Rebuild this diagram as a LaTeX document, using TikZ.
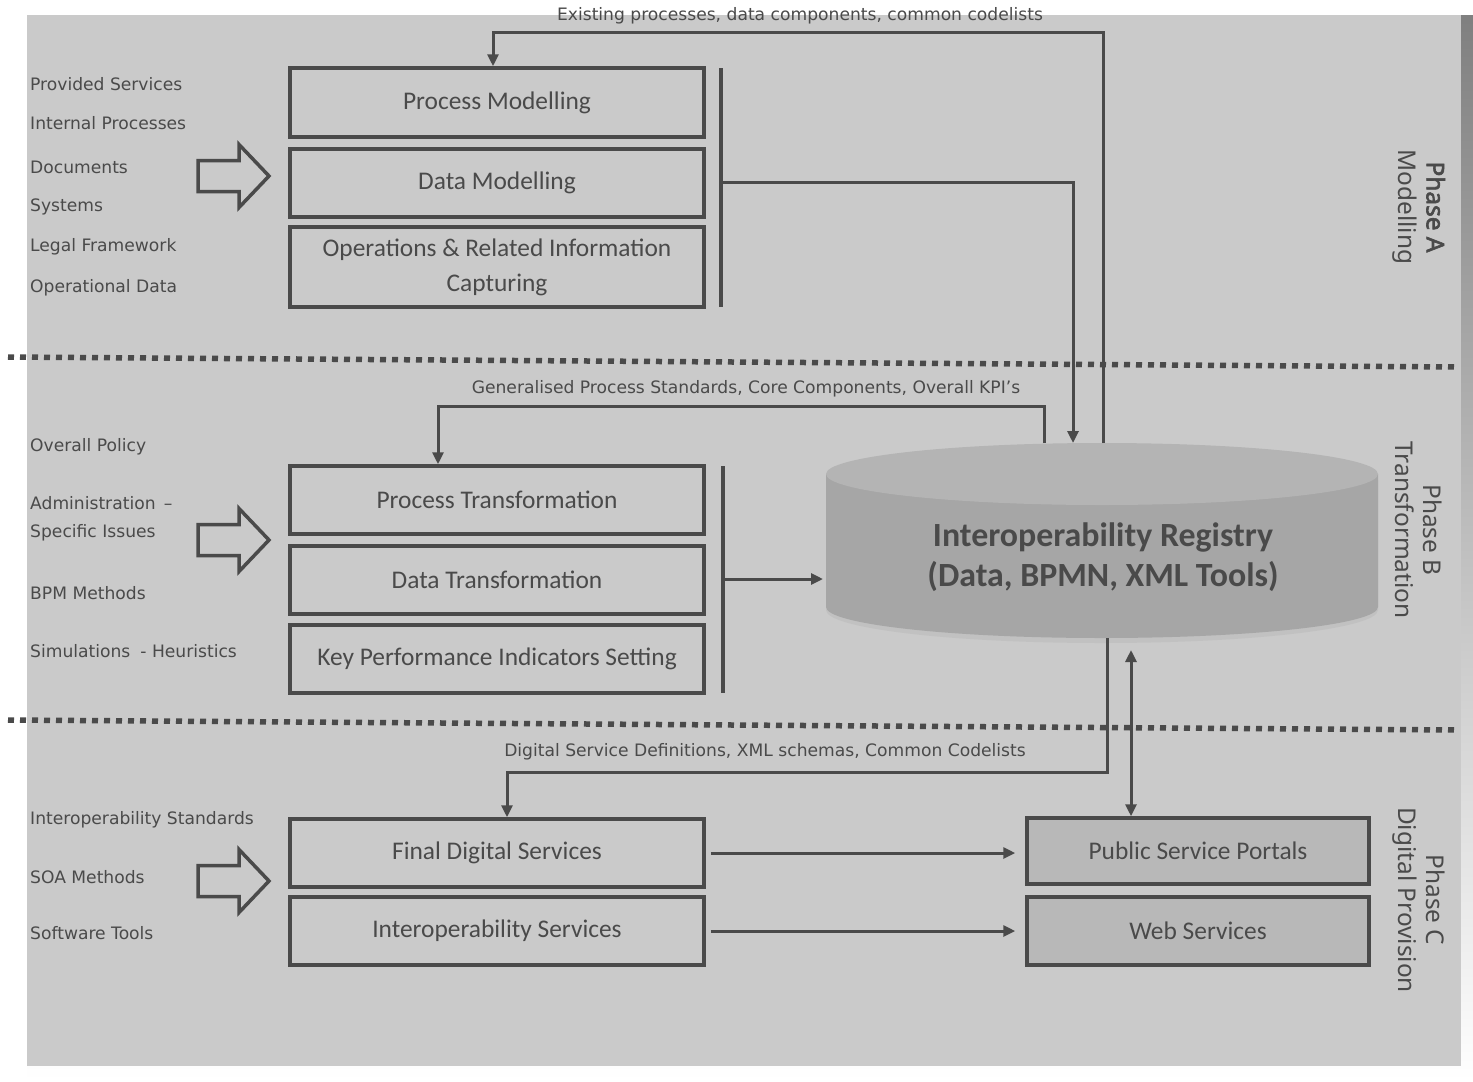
\documentclass[tikz,border=0pt]{standalone}
\usepackage{fontspec}
\setmainfont{Carlito}
\newfontfamily\lblfont{DejaVu Sans}
\newfontfamily\phfont[AutoFakeBold=2.5]{Noto Sans}
\usetikzlibrary{arrows.meta}
\definecolor{panel}{HTML}{CACACA}
\definecolor{shade}{HTML}{999999}
\definecolor{ink}{HTML}{4A4A4A}
\definecolor{txt}{HTML}{4A4A4A}
\definecolor{cyltop}{HTML}{B4B4B4}
\definecolor{cylbody}{HTML}{A6A6A6}
\definecolor{cylshadow}{HTML}{C1C1C1}
\definecolor{outbox}{HTML}{B8B8B8}
\tikzset{
  box/.style={draw=ink, line width=3.5bp, minimum width=414bp, text=txt, align=center,
              font=\fontsize{25.5}{35}\selectfont, inner sep=0pt},
  outb/.style={box, fill=outbox, minimum width=342bp},
  lbl/.style={anchor=west, text=txt, font=\lblfont\fontsize{17.2}{20}\selectfont, inner sep=0pt},
  toplbl/.style={text=txt, font=\lblfont\fontsize{17.2}{20}\selectfont, inner sep=0pt},
  conn/.style={draw=ink, line width=3bp, -{Triangle[length=12bp,width=11bp]}},
  dconn/.style={draw=ink, line width=3bp, {Triangle[length=12bp,width=11bp]}-{Triangle[length=12bp,width=11bp]}},
  barline/.style={draw=ink, line width=3.5bp},
  sep/.style={draw=ink, line width=5.5bp, dash pattern=on 6bp off 6bp},
  phase/.style={rotate=-90, text=txt, align=center, font=\phfont\fontsize{24.5}{28}\selectfont, inner sep=0pt},
  blockarr/.pic={\draw[ink, line width=3.5bp, line join=miter]
     (-35.5,-15.5) -- (5.5,-15.5) -- (5.5,-31.5) -- (35.5,0) -- (5.5,31.5) -- (5.5,15.5) -- (-35.5,15.5) -- cycle;}
}
\begin{document}
\begin{tikzpicture}[x=1bp,y=-1bp]
\useasboundingbox (0,0) rectangle (1473,1081);
\fill[white] (0,0) rectangle (1473,1081);
\fill[shade] (27,15) rectangle (1473,1081);
\fill[panel] (27,15) rectangle (1461,1066);

% separators
\draw[sep] (8,357) -- (1458,367);
\draw[sep] (8,720) -- (1458,730);

% cylinder
\fill[cylshadow] (826,480) -- (826,610) arc[start angle=180, end angle=0, x radius=276, y radius=33] -- (1378,480) -- cycle;
\fill[cylbody] (826,474) -- (826,607) arc[start angle=180, end angle=0, x radius=276, y radius=31] -- (1378,474) -- cycle;
\fill[cyltop] (1102,474) ellipse[x radius=276, y radius=31];
\node[text=txt, align=center, font=\bfseries\fontsize{34}{40}\selectfont, inner sep=0pt] (reg) at (1103,557)
  {Interoperability Registry\\(Data, BPMN, XML Tools)};
\coordinate (regTopA) at (1103,443);
\coordinate (regTopB) at (1073,443);
\coordinate (regTopC) at (1044,443);
\coordinate (regLeft) at (823,579);
\coordinate (regBotA) at (1107,638);
\coordinate (regBotB) at (1131,650);

% Phase A
\node[box, minimum height=69bp] (pm) at (497,102.5) {Process Modelling};
\node[box, minimum height=68bp] (dm) at (497,183) {Data Modelling};
\node[box, minimum height=80bp] (op) at (497,267) {Operations \& Related Information\\Capturing};
\coordinate (barAtop) at (721,68);
\coordinate (barAbot) at (721,307);
\coordinate (barAmid) at (721,182);
\draw[barline] (barAtop) -- (barAbot);
\coordinate (pmIn) at ([xshift=-4bp]pm.north);
\draw[conn] (regTopA) -- ++(0,-411) -| (pmIn);
\draw[conn] (barAmid) -| (regTopB);
\node[toplbl] (tA) at (800,16) {Existing processes, data components, common codelists};
\pic at (233.5,176) {blockarr};
\node[lbl] (a1) at (30,84) {Provided Services};
\node[lbl] (a2) at (30,123) {Internal Processes};
\node[lbl] (a3) at (30,167) {Documents};
\node[lbl] (a4) at (30,207) {Systems};
\node[lbl] (a5) at (30,247) {Legal Framework};
\node[lbl] (a6) at (30,288) {Operational Data};
\node[phase] (phA) at (1419,207) {\textbf{Phase A}\\Modelling};

% Phase B
\node[box, minimum height=68bp] (pt) at (497,500) {Process Transformation};
\node[box, minimum height=68bp] (dt) at (497,580) {Data Transformation};
\node[box, minimum height=68bp] (kpi) at (497,659) {Key Performance Indicators Setting};
\coordinate (barBtop) at (723,466);
\coordinate (barBbot) at (723,693);
\coordinate (barBmid) at (723,579);
\draw[barline] (barBtop) -- (barBbot);
\coordinate (ptIn) at ([xshift=-59bp]pt.north);
\draw[conn] (regTopC) -- ++(0,-37) -| (ptIn);
\draw[conn] (barBmid) -- (regLeft);
\node[toplbl] (tB) at (746,389) {Generalised Process Standards, Core Components, Overall KPI’s};
\pic at (233.5,540) {blockarr};
\node[lbl] (b1) at (30,447) {Overall Policy};
\node[lbl] (b2) at (30,503) {Administration \,–};
\node[lbl] (b3) at (30,533) {Specific Issues};
\node[lbl] (b4) at (30,593) {BPM Methods};
\node[lbl] (b5) at (30,651) {Simulations\hspace{10pt}- Heuristics};
\node[phase] (phB) at (1419,530) {Phase B\\Transformation};

% Phase C
\node[box, minimum height=68bp] (fds) at (497,853) {Final Digital Services};
\node[box, minimum height=68bp] (is) at (497,931) {Interoperability Services};
\node[outb, minimum height=66bp] (psp) at (1198,851) {Public Service Portals};
\node[outb, minimum height=68bp] (ws) at (1198,931) {Web Services};
\coordinate (fdsIn) at ([xshift=10bp]fds.north);
\draw[conn] (regBotA) -- ++(0,134) -| (fdsIn);
\draw[dconn] (regBotB) -- (regBotB |- psp.north);
\draw[conn, shorten <=5bp, shorten >=10bp] (fds.east) -- (psp.west |- fds.east);
\draw[conn, shorten <=5bp, shorten >=10bp] (is.east) -- (ws.west |- is.east);
\node[toplbl] (tC) at (765,752) {Digital Service Definitions, XML schemas, Common Codelists};
\pic at (233.5,881) {blockarr};
\node[lbl] (c1) at (30,820) {Interoperability Standards};
\node[lbl] (c2) at (30,877) {SOA Methods};
\node[lbl] (c3) at (30,933) {Software Tools};
\node[phase] (phC) at (1419,900) {Phase C\\Digital Provision};
\end{tikzpicture}
\end{document}
